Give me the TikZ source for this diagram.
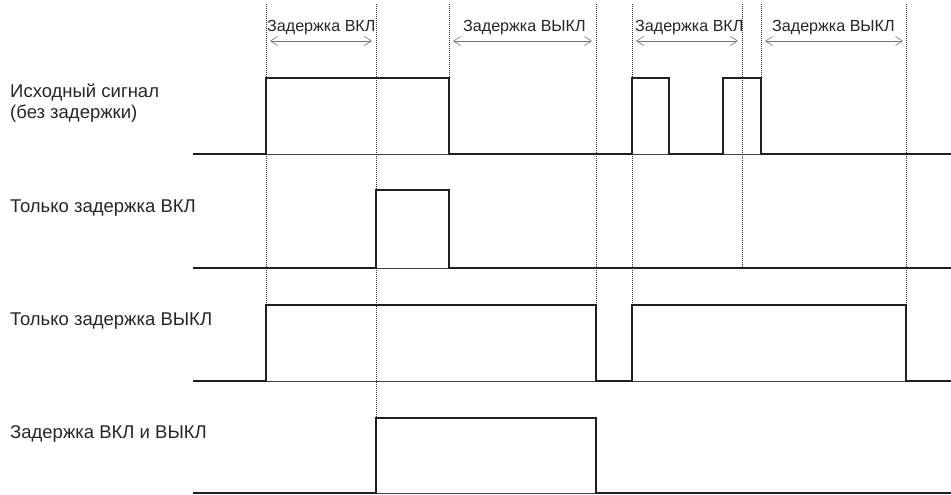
\documentclass[tikz,border=0pt]{standalone}
\usepackage{fontspec}
\setmainfont{Liberation Sans}
\usetikzlibrary{arrows.meta}
\begin{document}
\begin{tikzpicture}[x=1pt,y=-1pt,
  lbl/.style={inner sep=0pt,anchor=base west,font=\fontsize{18.5}{21}\selectfont,text=black!85},
  toplbl/.style={inner sep=0pt,anchor=base west,font=\fontsize{16.1}{19}\selectfont,text=black!85},
  sig/.style={line width=2.8pt,black!88,line join=miter},
  base/.style={line width=0.9pt,black!75},
  guide/.style={line width=0.8pt,black!80,dash pattern=on 1pt off 1pt},
  span/.style={line width=0.6pt,black!55,{Straight Barb[length=7pt,width=9pt,line width=0.6pt]}-{Straight Barb[length=7pt,width=9pt,line width=0.6pt]}}]
\useasboundingbox (0,0) rectangle (951,495);
% guides
\draw[guide] (266,4) -- (266,305);
\draw[guide] (376,4) -- (376,418);
\draw[guide] (449,4) -- (449,78);
\draw[guide] (596,4) -- (596,305);
\draw[guide] (632,4) -- (632,305);
\draw[guide] (742,4) -- (742,268);
\draw[guide] (761,4) -- (761,78);
\draw[guide] (906,4) -- (906,305);
% spans
\coordinate (a1) at (270,41); \coordinate (a2) at (372,41);
\coordinate (b1) at (453,41); \coordinate (b2) at (592,41);
\coordinate (c1) at (636,41); \coordinate (c2) at (738,41);
\coordinate (d1) at (765,41); \coordinate (d2) at (903,41);
\draw[span] (a1) -- (a2);
\draw[span] (b1) -- (b2);
\draw[span] (c1) -- (c2);
\draw[span] (d1) -- (d2);
\node[toplbl] (t1) at (267,32) {Задержка ВКЛ};
\node[toplbl] (t2) at (463,32) {Задержка ВЫКЛ};
\node[toplbl] (t3) at (635,32) {Задержка ВКЛ};
\node[toplbl] (t4) at (772,32) {Задержка ВЫКЛ};
% row labels
\node[lbl] (r1) at (10,98) {Исходный сигнал};
\node[lbl] (r1b) at (10,118) {(без задержки)};
\node[lbl] (r2) at (10,212) {Только задержка ВКЛ};
\node[lbl] (r3) at (10,325) {Только задержка ВЫКЛ};
\node[lbl] (r4) at (10,438) {Задержка ВКЛ и ВЫКЛ};
% baselines
\draw[base] (193,154) -- (951,154);
\draw[base] (193,268) -- (951,268);
\draw[base] (193,381) -- (951,381);
\draw[base] (193,493) -- (951,493);
% signals
\draw[sig] (193,154) -- (266,154) -- (266,78) -- (449,78) -- (449,154) -- (632,154) -- (632,78) -- (669,78) -- (669,154) -- (723,154) -- (723,78) -- (761,78) -- (761,154) -- (951,154);
\draw[sig] (193,268) -- (376,268) -- (376,190) -- (449,190) -- (449,268) -- (951,268);
\draw[sig] (193,381) -- (266,381) -- (266,305) -- (596,305) -- (596,381) -- (632,381) -- (632,305) -- (906,305) -- (906,381) -- (951,381);
\draw[sig] (193,493) -- (376,493) -- (376,418) -- (596,418) -- (596,493) -- (951,493);
\end{tikzpicture}
\end{document}
